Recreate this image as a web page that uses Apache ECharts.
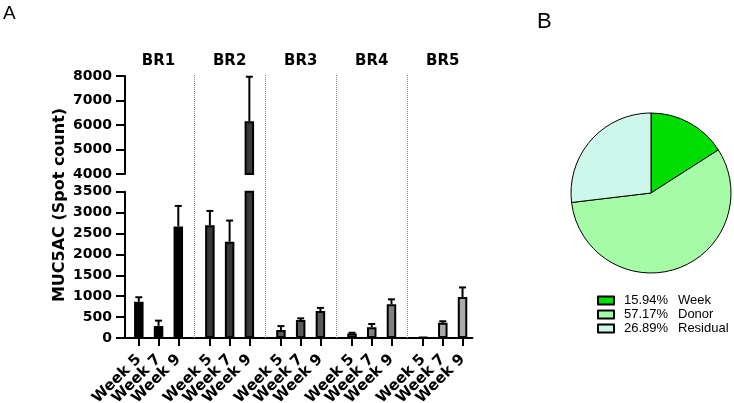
<!DOCTYPE html>
<html>
<head>
<meta charset="utf-8">
<script src="https://cdn.jsdelivr.net/npm/echarts@6/dist/echarts.min.js"></script>
<style>
html,body{margin:0;padding:0;background:#fff;}
#chart{width:734px;height:403px;}
</style>
</head>
<body>
<div id="chart"></div>
<script>
// ---------- data ----------
const groups = ['BR1', 'BR2', 'BR3', 'BR4', 'BR5'];
const weeks = ['Week 5', 'Week 7', 'Week 9'];
const br1Mean = [870, 290, 2670];
const br1Sd = [105, 125, 490];
const br2Mean = [2700, 2300, 6150];
const br2Sd = [340, 510, 1820];
const br3Mean = [190, 430, 645];
const br3Sd = [95, 40, 75];
const br4Mean = [110, 255, 805];
const br4Sd = [15, 80, 120];
const br5Mean = [20, 365, 980];
const br5Sd = [0, 35, 230];
const lowerRange = [0, 3500];
const upperRange = [4000, 8000];
const pieNames = ['Week', 'Donor', 'Residual'];
const pieValues = [15.94, 57.17, 26.89];

// ---------- layout helpers ----------
const means = [br1Mean, br2Mean, br3Mean, br4Mean, br5Mean];
const sds = [br1Sd, br2Sd, br3Sd, br4Sd, br5Sd];
const groupColors = ['#000000', '#383838', '#595959', '#808080', '#a9a9a9'];
const pieColors = ['#00dd00', '#a6fba6', '#ccf7ea'];

const GROUP_SLOTS = 18, FIRST = 3, STEP = 5, TOTAL = 88;
const slotOf = (g, w) => g * GROUP_SLOTS + FIRST + w * STEP;
const categories = Array.from({length: TOTAL}, (_, i) => 's' + i);
const weekAt = {}, weekIdxAt = {}, groupAt = {};
groups.forEach((g, gi) => {
  weeks.forEach((w, wi) => { weekAt[slotOf(gi, wi)] = w; weekIdxAt[slotOf(gi, wi)] = wi; });
  groupAt[slotOf(gi, 1)] = g;
});
const sepSlots = groups.slice(1).map((_, gi) => gi * GROUP_SLOTS + GROUP_SLOTS - 1);

const lowBars = Array(TOTAL).fill('-');
const highBars = Array(TOTAL).fill('-');
const lowErr = [], highErr = [];
groups.forEach((g, gi) => {
  weeks.forEach((w, wi) => {
    const s = slotOf(gi, wi);
    const m = means[gi][wi], sd = sds[gi][wi];
    const style = {color: groupColors[gi]};
    lowBars[s] = {value: m, itemStyle: style};
    if (m > upperRange[0]) highBars[s] = {value: m, itemStyle: style};
    if (sd > 0) {
      if (m + sd <= lowerRange[1]) lowErr.push([s, m, m + sd]);
      else if (m >= upperRange[0]) highErr.push([s, m, m + sd]);
    }
  });
});

const FONT = 'DejaVu Sans';
const gridLeft = 125, gridWidth = 347.4;

function errRender(params, api) {
  const x = api.value(0);
  const p0 = api.coord([x, api.value(1)]);
  const p1 = api.coord([x, api.value(2)]);
  const cap = 3.5;
  const st = {stroke: '#000', lineWidth: 2};
  return {type: 'group', children: [
    {type: 'line', shape: {x1: p0[0], y1: p0[1], x2: p1[0], y2: p1[1]}, style: st},
    {type: 'line', shape: {x1: p1[0] - cap, y1: p1[1], x2: p1[0] + cap, y2: p1[1]}, style: st}
  ]};
}

const yAxisCommon = {
  type: 'value',
  axisLine: {show: true, lineStyle: {color: '#000', width: 2}},
  axisTick: {show: true, length: 9, lineStyle: {color: '#000', width: 2}},
  axisLabel: {color: '#000', fontFamily: FONT, fontWeight: 'bold', fontSize: 14, margin: 13,
    showMinLabel: true, showMaxLabel: true, formatter: (v) => String(v)},
  splitLine: {show: false}
};

// one label axis per week so that neighbouring rotated labels never collide
function weekLabelAxis(wi, withLine) {
  return {
    gridIndex: 0, type: 'category', data: categories, boundaryGap: true, position: 'bottom', offset: 0,
    axisLine: {show: withLine, lineStyle: {color: '#000', width: 2}},
    axisTick: {show: withLine, alignWithLabel: true, length: 8,
      interval: (i) => weekAt[i] !== undefined,
      lineStyle: {color: '#000', width: 2}},
    axisLabel: {show: true, rotate: 45, margin: 19,
      showMinLabel: true, showMaxLabel: true,
      interval: (i) => weekIdxAt[i] === wi,
      formatter: (v, i) => weekAt[i] || '',
      color: '#000', fontFamily: FONT, fontWeight: 'bold', fontSize: 15},
    splitLine: {show: false}
  };
}

const gridCommon = {left: gridLeft, width: gridWidth, containLabel: false, outerBoundsMode: 'none'};

const option = {
  animation: false,
  backgroundColor: '#fff',
  grid: [
    Object.assign({}, gridCommon, {top: 191.7, height: 146.3}),
    Object.assign({}, gridCommon, {top: 76, height: 98}),
    Object.assign({}, gridCommon, {top: 74, height: 264})
  ],
  xAxis: [
    weekLabelAxis(0, true),
    {gridIndex: 1, type: 'category', data: categories, show: false},
    {
      gridIndex: 2, type: 'category', data: categories, position: 'top',
      axisLine: {show: false}, axisTick: {show: false}, splitLine: {show: false},
      axisLabel: {show: true, margin: 5, showMinLabel: true, showMaxLabel: true,
        interval: (i) => groupAt[i] !== undefined,
        formatter: (v, i) => groupAt[i] || '',
        color: '#000', fontFamily: FONT, fontWeight: 'bold', fontSize: 15}
    },
    weekLabelAxis(1, false),
    weekLabelAxis(2, false)
  ],
  yAxis: [
    Object.assign({}, yAxisCommon, {gridIndex: 0, min: lowerRange[0], max: lowerRange[1], interval: 500}),
    Object.assign({}, yAxisCommon, {gridIndex: 1, min: upperRange[0], max: upperRange[1], interval: 1000}),
    {gridIndex: 2, type: 'value', min: 0, max: 1, show: false}
  ],
  series: [
    {
      type: 'bar', xAxisIndex: 0, yAxisIndex: 0, data: lowBars, barWidth: 9.5,
      itemStyle: {borderColor: '#000', borderWidth: 2}, silent: true
    },
    {
      type: 'bar', xAxisIndex: 1, yAxisIndex: 1, data: highBars, barWidth: 9.5,
      itemStyle: {borderColor: '#000', borderWidth: 2}, silent: true
    },
    {type: 'custom', xAxisIndex: 0, yAxisIndex: 0, data: lowErr, renderItem: errRender, silent: true, z: 3},
    {type: 'custom', xAxisIndex: 1, yAxisIndex: 1, data: highErr, renderItem: errRender, silent: true, z: 3},
    {
      type: 'line', xAxisIndex: 2, yAxisIndex: 2, data: Array(TOTAL).fill('-'), silent: true,
      symbol: 'none',
      markLine: {
        silent: true, symbol: ['none', 'none'], label: {show: false},
        lineStyle: {type: 'dotted', color: '#8a8a8a', width: 1},
        emphasis: {disabled: true},
        data: sepSlots.map(s => ({xAxis: categories[s]}))
      }
    },
    {
      type: 'pie', center: [651, 193], radius: 80, startAngle: 90, clockwise: true,
      label: {show: false}, labelLine: {show: false}, silent: true,
      itemStyle: {borderColor: '#000', borderWidth: 1},
      emphasis: {disabled: true},
      data: pieNames.map((n, i) => ({name: n, value: pieValues[i], itemStyle: {color: pieColors[i]}}))
    }
  ],
  legend: {
    data: pieNames, orient: 'vertical', left: 597, top: 294, padding: 0,
    itemWidth: 16, itemHeight: 8, itemGap: 1, icon: 'rect', selectedMode: false,
    formatter: (name) => {
      const v = pieValues[pieNames.indexOf(name)];
      return '{p|' + v.toFixed(2) + '%}{n|' + name + '}';
    },
    textStyle: {
      color: '#000',
      rich: {
        p: {width: 54, padding: [0, 0, 0, 5], fontSize: 13, lineHeight: 14, fontFamily: 'Liberation Sans', color: '#000'},
        n: {fontSize: 13, lineHeight: 14, fontFamily: 'Liberation Sans', color: '#000'}
      }
    }
  },
  graphic: [
    {type: 'text', x: 60, y: 205, rotation: Math.PI / 2,
      style: {text: 'MUC5AC (Spot count)', align: 'center', verticalAlign: 'middle',
        fontFamily: FONT, fontWeight: 'bold', fontSize: 16, fill: '#000'}},
    {type: 'text', x: 3, y: 14,
      style: {text: 'A', align: 'left', verticalAlign: 'middle', fontFamily: 'Liberation Sans', fontSize: 19, fill: '#000'}},
    {type: 'text', x: 537, y: 22,
      style: {text: 'B', align: 'left', verticalAlign: 'middle', fontFamily: 'Liberation Sans', fontSize: 22, fill: '#000'}}
  ]
};

const chart = echarts.init(document.getElementById('chart'), null, {renderer: 'canvas'});
chart.setOption(option);
</script>
</body>
</html>
